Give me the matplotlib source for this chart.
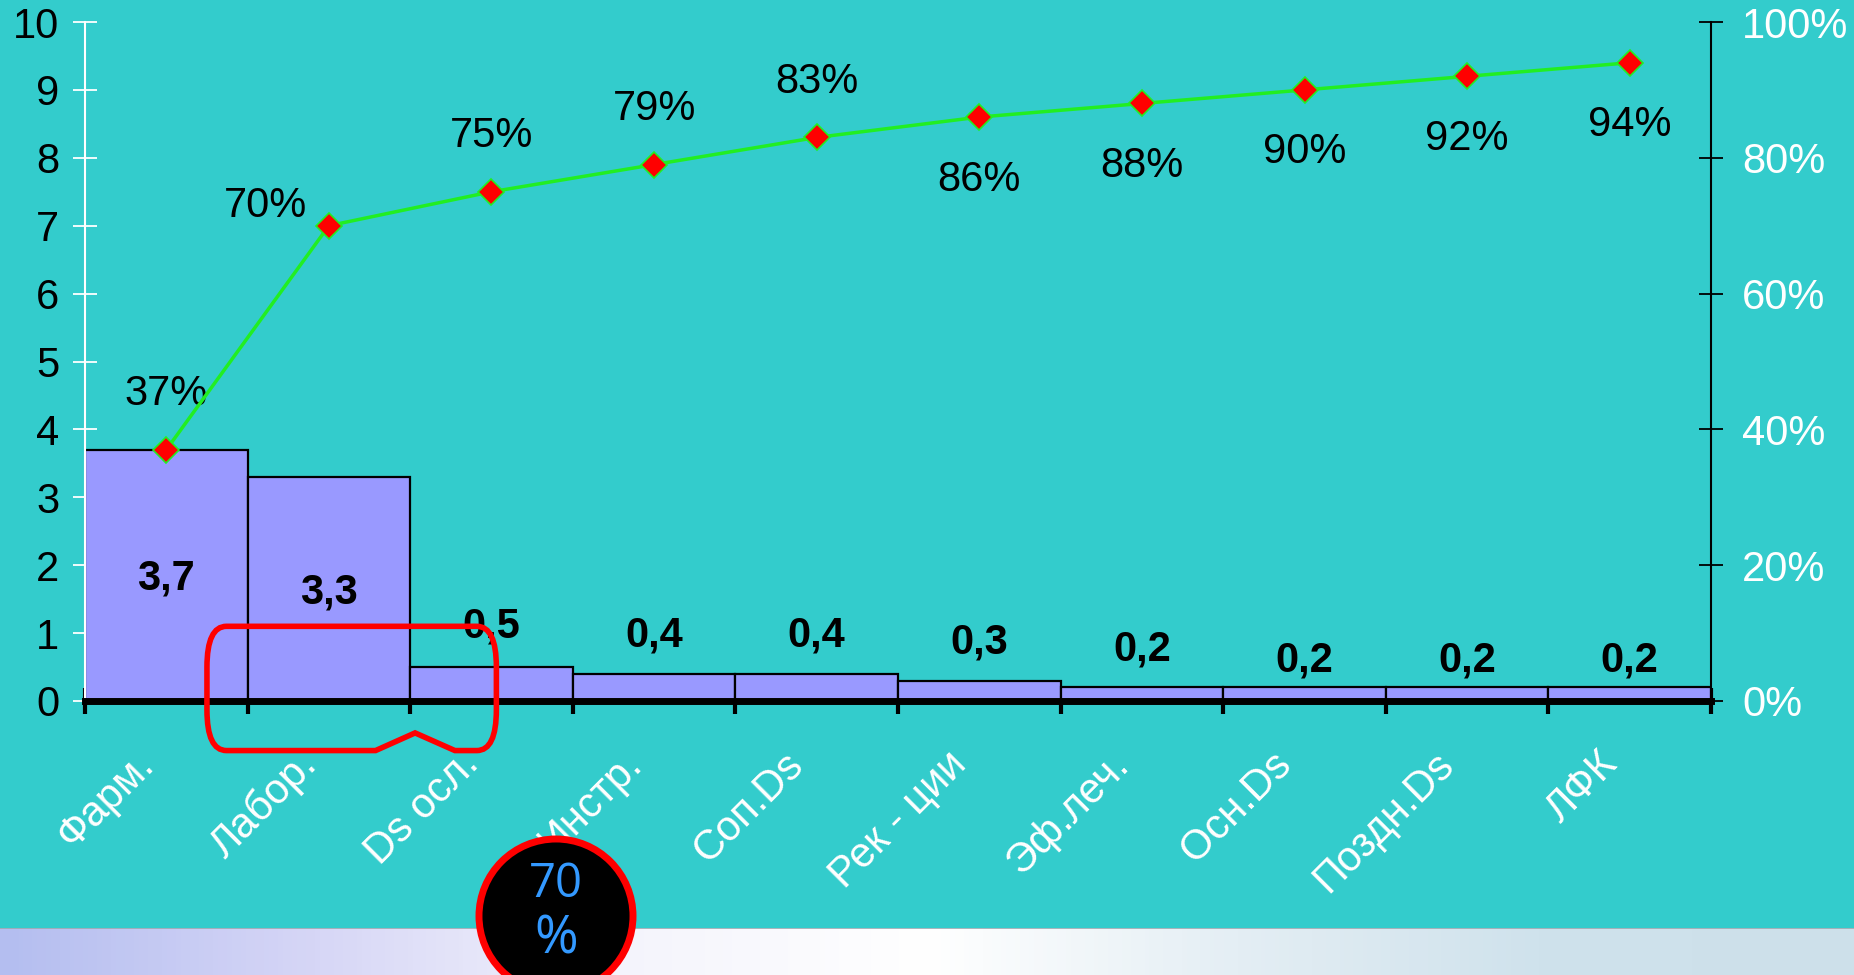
import numpy as np
import matplotlib
matplotlib.use("Agg")
import matplotlib.pyplot as plt
from matplotlib.patches import Ellipse, PathPatch
from matplotlib.path import Path
from matplotlib.colors import LinearSegmentedColormap
from matplotlib.transforms import ScaledTranslation

plt.rcParams['font.family'] = ['Liberation Sans', 'DejaVu Sans']

categories = ['Фарм.', 'Лабор.', 'Ds осл.', 'Инстр.', 'Соп.Ds', 'Рек - ции',
              'Эф.леч.', 'Осн.Ds', 'Поздн.Ds', 'ЛФК']
values = [3.7, 3.3, 0.5, 0.4, 0.4, 0.3, 0.2, 0.2, 0.2, 0.2]
cumulative = [37, 70, 75, 79, 83, 86, 88, 90, 92, 94]

# where the value labels sit (data units) and which side the % labels go
value_label_y = [1.80, 1.60, 1.10, 0.97, 0.97, 0.86, 0.76, 0.60, 0.60, 0.60]
pct_offsets = [(0, 40), (-46, 14), (0, 40), (0, 40), (0, 40),
               (0, -45), (0, -45), (0, -45), (0, -45), (0, -45)]

BG = '#33CCCC'
W, H = 1854, 975

fig = plt.figure(figsize=(W / 100, H / 100), dpi=100, facecolor=BG)

# slide footer strip with a soft gradient
band = fig.add_axes([0, 0, 1, 47 / H])
band.axis('off')
grad = LinearSegmentedColormap.from_list(
    'footer', ['#b4bef0', '#d6d6f6', '#f4f4fc', '#ffffff', '#e4eef4', '#cfe2ec', '#cde0ea'])
band.imshow(np.linspace(0, 1, 400)[None, :], aspect='auto', cmap=grad,
            extent=[0, 1, 0, 1])
band.axhline(1, color='#9aa8b0', lw=1.2)

ax = fig.add_axes([85 / W, 1 - 701 / H, (1711 - 85) / W, (701 - 22) / H])
ax.set_facecolor('none')
x = np.arange(len(categories))

ax.bar(x, values, width=1.0, color='#9999FF', edgecolor='black', linewidth=1.6, zorder=2)
for xi, v, ly in zip(x, values, value_label_y):
    ax.text(xi, ly, f"{v:.1f}".replace('.', ','), ha='center', va='center',
            fontsize=30, fontweight='bold', color='black', zorder=5)

ax.set_xlim(-0.5, len(categories) - 0.5)
ax.set_ylim(0, 10)
ax.set_yticks(range(0, 11))
ax.tick_params(axis='y', colors='white', direction='inout', length=17, width=1.3,
               labelcolor='black', labelsize=30, pad=10)
ax.spines['left'].set_color('white')
ax.spines['left'].set_linewidth(1.5)
ax.spines['top'].set_visible(False)
ax.spines['right'].set_visible(False)
ax.spines['bottom'].set_linewidth(5)
ax.spines['bottom'].set_zorder(4)

ax.set_xticks(np.arange(-0.5, len(categories)), labels=[])
ax.tick_params(axis='x', which='major', direction='inout', length=19, width=3, color='black')
ax.set_xticks(x, labels=categories, minor=True)
ax.tick_params(axis='x', which='minor', length=0, pad=31, labelsize=30, labelcolor='white')
shift = ScaledTranslation(-0.33, 0, fig.dpi_scale_trans)
for lbl in ax.get_xticklabels(minor=True):
    lbl.set_rotation(45)
    lbl.set_ha('right')
    lbl.set_rotation_mode('anchor')
    lbl.set_transform(lbl.get_transform() + shift)

# cumulative share on the right axis
ax2 = ax.twinx()
ax2.set_ylim(0, 1)
ax2.set_yticks(np.arange(0, 1.01, 0.2))
ax2.set_yticklabels([f"{int(round(t * 100))}%" for t in np.arange(0, 1.01, 0.2)])
ax2.tick_params(axis='y', colors='black', direction='inout', length=17, width=1.3,
                labelcolor='white', labelsize=30, pad=14)
for s in ['left', 'top', 'bottom']:
    ax2.spines[s].set_visible(False)
ax2.spines['right'].set_color('black')
ax2.spines['right'].set_linewidth(1.5)

cum_frac = [c / 100 for c in cumulative]
ax2.plot(x, cum_frac, color='#22EE22', lw=2.5, marker='D', markersize=13,
         markerfacecolor='#FF0000', markeredgecolor='#22EE22', markeredgewidth=1.2,
         zorder=6, clip_on=False)
for xi, c, off in zip(x, cumulative, pct_offsets):
    ax2.annotate(f"{c}%", (xi, c / 100), xytext=off, textcoords='offset points',
                 ha='center', va='center', fontsize=30, color='black')

# red callout frame around the 70 % boundary
L, R, T, B, r = 0.25, 2.03, 1.10, -0.73, 0.12
verts = [(L + r, T), (R - r, T), (R, T), (R, T - r * 5), (R, B + r * 5), (R, B),
         (R - r, B), (1.775, B), (1.53, -0.47), (1.287, B), (L + r, B), (L, B),
         (L, B + r * 5), (L, T - r * 5), (L, T), (L + r, T), (L + r, T)]
codes = [Path.MOVETO, Path.LINETO, Path.CURVE3, Path.CURVE3, Path.LINETO, Path.CURVE3,
         Path.CURVE3, Path.LINETO, Path.LINETO, Path.LINETO, Path.LINETO, Path.CURVE3,
         Path.CURVE3, Path.LINETO, Path.CURVE3, Path.CURVE3, Path.CLOSEPOLY]
ax.add_patch(PathPatch(Path(verts, codes), facecolor='none', edgecolor='#FF0000',
                       lw=4, clip_on=False, zorder=7))

# black badge with the 70 % note
cx, cy, rad = 556, 975 - 916, 77
fig.patches.append(Ellipse((cx / W, cy / H), 2 * rad / W, 2 * rad / H,
                           transform=fig.transFigure, facecolor='black',
                           edgecolor='#FF0000', lw=5, zorder=10))
fig.text(cx / W, (975 - 884) / H, '70', ha='center', va='center', fontsize=34,
         color='#3399FF', family=['Open Sans', 'DejaVu Sans'], zorder=11)
fig.text(cx / W, (975 - 940) / H, '%', ha='center', va='center', fontsize=38,
         color='#3399FF', family=['Open Sans', 'DejaVu Sans'], zorder=11)

fig.savefig('out.png', dpi=100, facecolor=BG)
